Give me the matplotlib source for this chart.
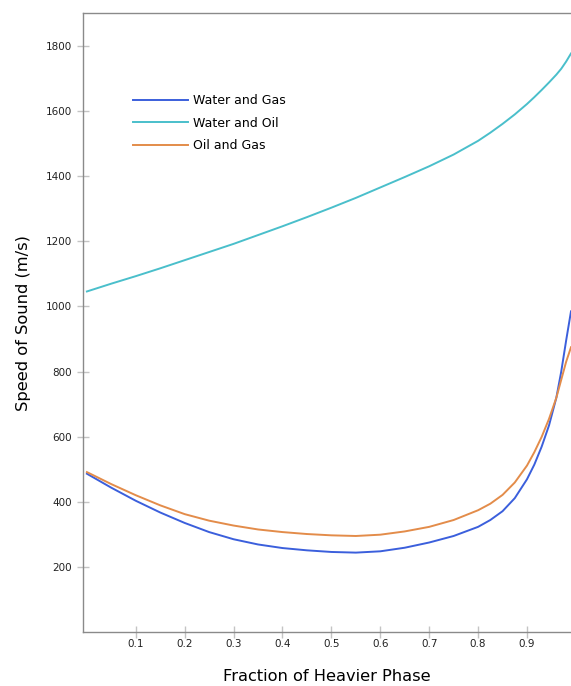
import matplotlib
matplotlib.use("Agg")
import matplotlib.pyplot as plt

# fraction of heavier phase
frac = [0.0, 0.05, 0.1, 0.15, 0.2, 0.25, 0.3, 0.35, 0.4, 0.45, 0.5, 0.55,
        0.6, 0.65, 0.7, 0.75, 0.8, 0.825, 0.85, 0.875, 0.9, 0.915, 0.93,
        0.945, 0.96, 0.97, 0.98, 0.99]

water_gas = [487, 444, 404, 368, 336, 308, 286, 270, 259, 252, 247, 245,
             249, 260, 276, 296, 324, 345, 372, 412, 470, 515, 570,
             635, 720, 800, 895, 985]
water_oil = [1046, 1070, 1093, 1117, 1142, 1167, 1192, 1219, 1246, 1274, 1303, 1333,
             1365, 1397, 1430, 1466, 1508, 1533, 1560, 1589, 1621, 1642, 1664,
             1687, 1711, 1729, 1751, 1776]
oil_gas = [492, 455, 421, 390, 363, 343, 328, 316, 308, 302, 298, 296,
           300, 310, 324, 345, 375, 395, 422, 460, 512, 553, 600,
           655, 720, 775, 830, 875]

xticks = [0.1, 0.2, 0.3, 0.4, 0.5, 0.6, 0.7, 0.8, 0.9]
yticks = [200, 400, 600, 800, 1000, 1200, 1400, 1600, 1800]

fig = plt.figure(figsize=(5.71, 6.86), dpi=100)
ax = fig.add_axes([0.1462, 0.078, 0.8538, 0.903])

ax.plot(frac, water_gas, color="#3b5fdc", lw=1.4, label="Water and Gas")
ax.plot(frac, water_oil, color="#4abfcb", lw=1.4, label="Water and Oil")
ax.plot(frac, oil_gas, color="#e38c4a", lw=1.4, label="Oil and Gas")

ax.set_xlim(-0.007, 0.99)
ax.set_ylim(0, 1900)
ax.set_xticks(xticks)
ax.set_xticklabels([str(v) for v in xticks])
ax.set_yticks(yticks)

for s in ["left", "bottom", "top"]:
    ax.spines[s].set_color("#8a8a8a")
    ax.spines[s].set_linewidth(1.0)
ax.spines["right"].set_visible(False)

ax.tick_params(direction="inout", length=8, width=1, color="#c4c4c4",
               labelsize=7.5, labelcolor="#222222")
ax.tick_params(axis="y", pad=4)
ax.tick_params(axis="x", pad=1)

ax.set_xlabel("Fraction of Heavier Phase", fontsize=11.7, labelpad=14)
ax.set_ylabel("Speed of Sound (m/s)", fontsize=11.7, labelpad=11)

ax.legend(loc="upper left", bbox_to_anchor=(0.1015, 0.869), frameon=False,
          fontsize=9, handlelength=4.4, handletextpad=0.4, labelspacing=0.75,
          borderpad=0, borderaxespad=0)

fig.savefig("out.png", dpi=100)
